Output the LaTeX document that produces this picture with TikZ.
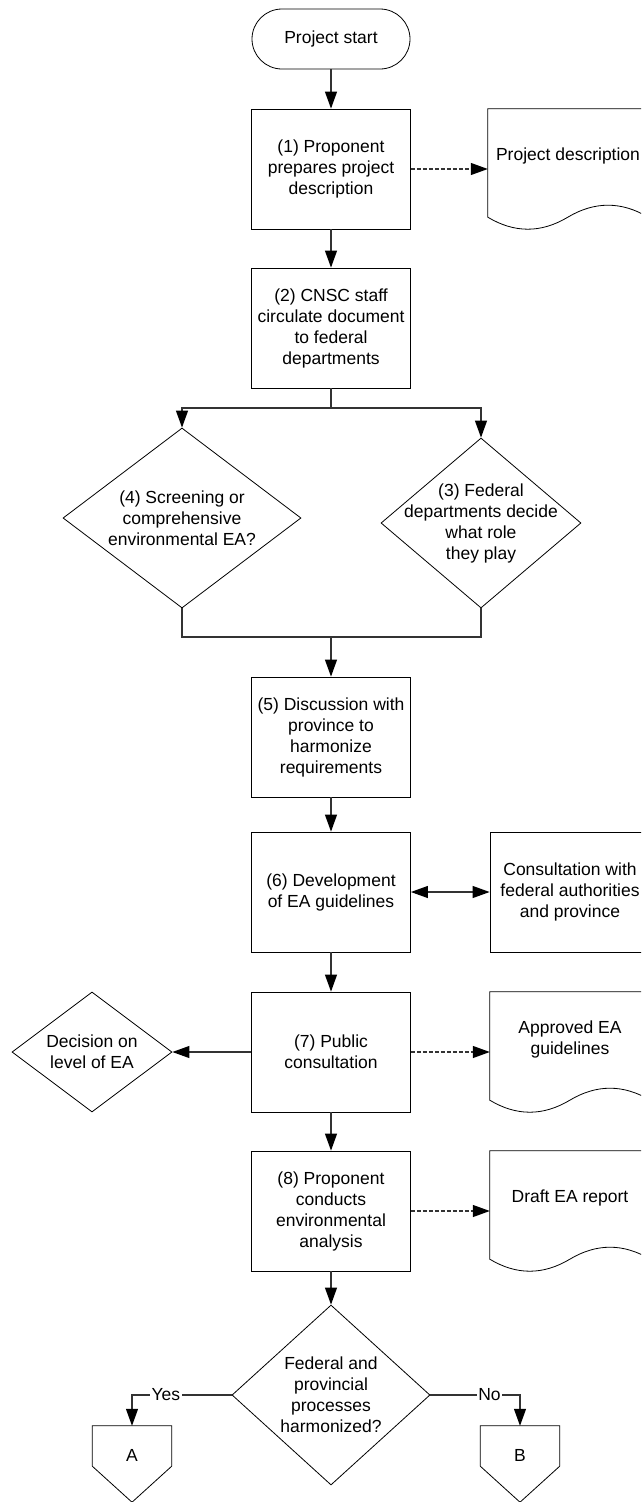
\documentclass[tikz,border=0pt]{standalone}
\usepackage{fontspec}
\setmainfont{Liberation Sans}
\usetikzlibrary{shapes.geometric,arrows.meta}
\newcommand\docwave[1]{%
  \draw[shp] (#1.north west) -- (#1.north east) -- ([yshift=12pt]#1.south east)
    .. controls +(-26.7pt,16pt) and +(26.7pt,16pt) .. ([xshift=80pt,yshift=12pt]#1.south west)
    .. controls +(-26.7pt,-16pt) and +(26.7pt,-16pt) .. ([yshift=12pt]#1.south west) -- cycle;}
\newcommand\offpage[1]{%
  \draw[shp] (#1.north west) -- (#1.north east) -- ([yshift=36pt]#1.south east)
    -- (#1.south) -- ([yshift=36pt]#1.south west) -- cycle;}
\tikzset{
  shp/.style={draw=black, line width=0.8pt},
  procbox/.style={shp, rectangle, minimum width=159pt, minimum height=120pt, align=center, inner sep=2pt},
  termbox/.style={shp, rectangle, rounded corners=30pt, minimum width=158pt, minimum height=60pt, align=center},
  docnode/.style={rectangle, minimum width=160pt, minimum height=120pt, inner sep=0pt},
  doclabel/.style={yshift=13pt, align=center},
  decis/.style={shp, diamond, inner sep=0pt},
  dtext/.style={align=center},
  opnode/.style={rectangle, minimum width=79pt, minimum height=76pt, inner sep=0pt},
  conn/.style={draw=black!80, line width=1.1pt},
  arr/.style={conn, -{Triangle[length=17pt,width=12pt,color=black]}},
  darr/.style={conn, {Triangle[length=17pt,width=12pt,color=black]}-{Triangle[length=17pt,width=12pt,color=black]}},
  dasharr/.style={arr, dash pattern=on 4pt off 2pt},
  lbl/.style={fill=white, inner sep=1.5pt}
}
\begin{document}
\begin{tikzpicture}[x=1pt, y=-1pt, font=\fontsize{17.5}{21}\selectfont]
\clip (0,0) rectangle (641,1502);
\fill[white] (0,0) rectangle (641,1502);

\node[termbox] (start) at (331,39) {Project start};
\node[procbox] (b1) at (331,169) {(1) Proponent\\prepares project\\description};
\node[docnode, label={[doclabel]center:Project description}] (pd) at (568,169) {};
\docwave{pd}
\node[procbox] (b2) at (331,328) {(2) CNSC staff\\circulate document\\to federal\\departments};
\coordinate (j1) at (331,408);
\node[decis, minimum width=238pt, minimum height=180pt] (d4) at (182,518) {};
\node[dtext] (d4t) at (182,518) {(4) Screening or\\comprehensive\\environmental EA?};
\node[decis, minimum width=200pt, minimum height=170pt] (d3) at (481,523) {};
\node[dtext] (d3t) at (481,523) {(3) Federal\\departments decide\\what role\\they play};
\coordinate (j2) at (331,637);
\node[procbox] (b5) at (331,737) {(5) Discussion with\\province to\\harmonize\\requirements};
\node[procbox] (b6) at (331,892) {(6) Development\\of EA guidelines};
\node[procbox, minimum width=160pt] (cons) at (570,892) {Consultation with\\federal authorities\\and province};
\node[procbox] (b7) at (331,1052) {(7) Public\\consultation};
\node[decis, minimum width=160pt, minimum height=120pt] (dec) at (92,1052) {};
\node[dtext] (dect) at (92,1052) {Decision on\\level of EA};
\node[docnode, label={[doclabel]center:Approved EA\\guidelines}] (ag) at (570,1052) {};
\docwave{ag}
\node[procbox] (b8) at (331,1211) {(8) Proponent\\conducts\\environmental\\analysis};
\node[docnode, label={[doclabel]center:Draft EA report}] (dr) at (570,1211) {};
\docwave{dr}
\node[decis, minimum width=198pt, minimum height=180pt] (fin) at (331,1395) {};
\node[dtext] (fint) at (331,1395) {Federal and\\provincial\\processes\\harmonized?};
\node[opnode, label={[yshift=9pt]center:A}] (A) at (132,1464) {};
\offpage{A}
\node[opnode, label={[yshift=9pt]center:B}] (B) at (520,1464) {};
\offpage{B}

\draw[arr] (start.south) -- (b1.north);
\draw[dasharr] (b1.east) -- (pd.west);
\draw[arr] (b1.south) -- (b2.north);
\draw[conn] (b2.south) -- (j1);
\draw[arr] (j1) -| (d4.north);
\draw[arr] (j1) -| (d3.north);
\draw[conn] (d4.south) |- (j2);
\draw[conn] (d3.south) |- (j2);
\draw[arr] (j2) -- (b5.north);
\draw[arr] (b5.south) -- (b6.north);
\draw[darr] (b6.east) -- (cons.west);
\draw[arr] (b6.south) -- (b7.north);
\draw[arr] (b7.west) -- (dec.east);
\draw[dasharr] (b7.east) -- (ag.west);
\draw[arr] (b7.south) -- (b8.north);
\draw[dasharr] (b8.east) -- (dr.west);
\draw[arr] (b8.south) -- (fin.north);
\draw[arr] (fin.west) -| node[lbl, pos=0.33] {Yes} (A.north);
\draw[arr] (fin.east) -| node[lbl, pos=0.33] {No} (B.north);
\end{tikzpicture}
\end{document}
